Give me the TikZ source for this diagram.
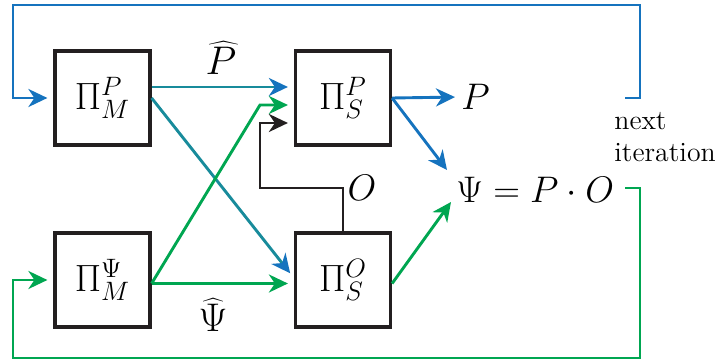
\RequirePackage{fix-cm}
\documentclass[tikz,border=0pt]{standalone}
\usetikzlibrary{arrows.meta}
\definecolor{cblue}{RGB}{21,115,190}
\definecolor{cgreen}{RGB}{0,166,81}
\definecolor{cteal}{RGB}{24,139,155}
\definecolor{cblack}{RGB}{35,31,32}
\tikzset{
  pbox/.style={draw=cblack, line width=1.6pt, minimum width=47.5pt, minimum height=47pt, inner sep=0pt,
    font=\fontsize{19}{22}\selectfont},
  mlabel/.style={inner sep=0pt, font=\fontsize{18.5}{22}\selectfont},
  hlabel/.style={inner sep=0pt, font=\fontsize{20}{24}\selectfont},
  tip/.style={-{Stealth[length=9.5pt,width=9pt,inset=3pt]}},
  conn/.style={line width=1.45pt, tip, shorten >=3pt},
}
\begin{document}
\begin{tikzpicture}[x=0.5pt,y=-0.5pt]
\useasboundingbox (0,0) rectangle (717,362);
% boxes
\node[pbox] (mp) at (102.5,98) {$\Pi_M^P$};
\node[pbox] (sp) at (343,98) {$\Pi_S^P$};
\node[pbox] (mpsi) at (102.5,280) {$\Pi_M^\Psi$};
\node[pbox] (so) at (343,280) {$\Pi_S^O$};
% labels
\node[hlabel] (phat) at (221,58) {$\widehat{P}$};
\node[hlabel] (psihat) at (213,315) {$\widehat{\Psi}$};
\node[mlabel,anchor=west] (P) at (461,97) {$P$};
\node[mlabel] (Olab) at (362,188) {$O$};
\node[mlabel,anchor=west] (eq) at (456,190) {$\Psi = P\cdot O$};
\node[anchor=north west, align=left, inner sep=0pt, font=\fontsize{13.9}{16}\selectfont] (next) at (614,112) {next\\iteration};
% coordinates
\coordinate (gbend) at (260,105);
\coordinate (bk) at (260,188);
\coordinate (eqin1) at (447,170);
\coordinate (eqin2) at (451,202);
\coordinate (bl1) at (625,98);
\coordinate (bl2) at (640,5);
\coordinate (bl3) at (13,98);
\coordinate (gl1) at (625,188);
\coordinate (gl2) at (640,358);
\coordinate (gl3) at (13,280);
% connectors
\draw[conn, cteal, -{Stealth[length=9.5pt,width=9pt,inset=3pt,cblue]}] ([yshift=5.5pt]mp.east) -- ([yshift=5.5pt]sp.west);
\draw[conn, cteal, -{Stealth[length=9.5pt,width=9pt,inset=3pt,cblue]}] (mp.east) -- ([yshift=1pt]so.west);
\draw[conn, cgreen] ([yshift=-1.75pt]mpsi.east) -- (gbend) -- ([yshift=-3.5pt]sp.west);
\draw[conn, cgreen] ([yshift=-1.75pt]mpsi.east) -- ([yshift=-1.75pt]so.west);
\draw[conn, cblack] (so.north) |- (bk) |- ([yshift=-12.5pt]sp.west);
\draw[conn, cblue] (sp.east) -- (P.west);
\draw[conn, cblue, shorten >=0pt] (sp.east) -- (eqin1);
\draw[conn, cgreen, shorten >=0pt] ([yshift=-1.75pt]so.east) -- (eqin2);
\draw[conn, cblue] (bl1) -| (bl2) -| (bl3) -- (mp.west);
\draw[conn, cgreen] (gl1) -| (gl2) -| (gl3) -- (mpsi.west);
\end{tikzpicture}
\end{document}
